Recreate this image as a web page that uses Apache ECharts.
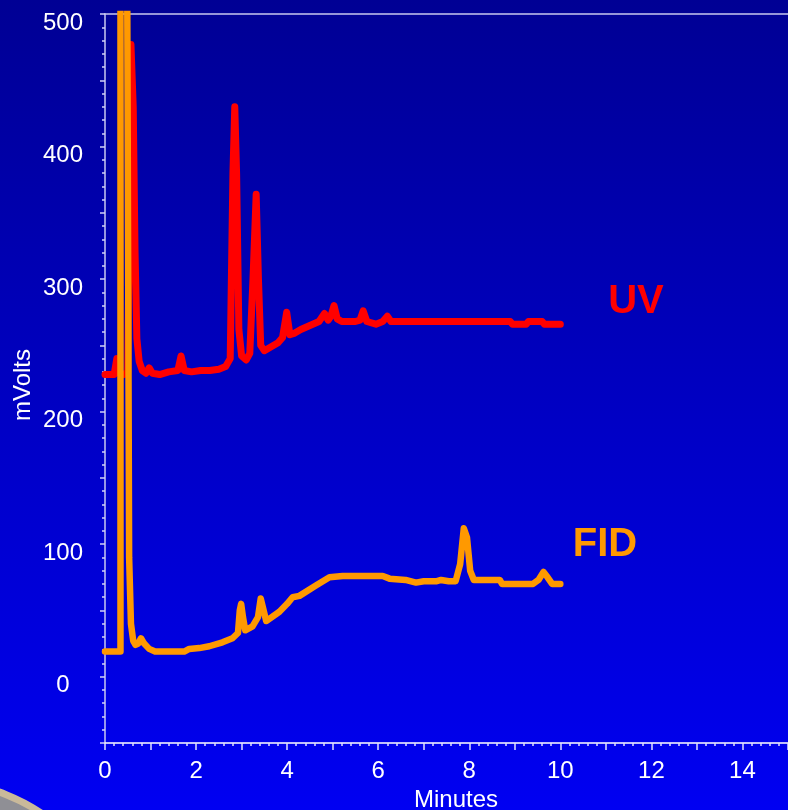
<!DOCTYPE html>
<html>
<head>
<meta charset="utf-8">
<script src="https://cdn.jsdelivr.net/npm/echarts@6/dist/echarts.min.js"></script>
<style>html,body{margin:0;padding:0;background:#0000c0;}#chart{width:788px;height:810px;}</style>
</head>
<body>
<div id="chart"></div>
<script>
// Retention time (minutes) and detector response (mVolts)
const uvTime = [0,0.2,0.26,0.32,0.42,0.5,0.57,0.62,0.66,0.70,0.75,0.82,0.90,0.97,1.04,1.2,1.4,1.6,1.67,1.74,1.9,2.1,2.3,2.5,2.65,2.75,2.81,2.85,2.89,2.94,3.0,3.1,3.18,3.25,3.32,3.37,3.42,3.5,3.65,3.8,3.9,3.99,4.06,4.15,4.3,4.5,4.7,4.82,4.9,4.96,5.03,5.1,5.2,5.5,5.6,5.67,5.75,5.95,6.1,6.2,6.28,7.0,8.0,8.9,8.95,9.25,9.3,9.6,9.65,10.0];
const uvValue = [228,228,240,229,228,230,477,430,320,255,238,231,229,233,229,228,230,231,242,231,230,231,231,232,234,240,380,430,380,262,242,239,244,300,364,300,250,246,249,252,256,275,258,259,262,265,268,274,269,272,280,270,268,268,269,276,268,266,268,272,268,268,268,268,266,266,268,268,266,266];
const fidTime = [0,0.34,0.34,0.49,0.49,0.53,0.57,0.62,0.67,0.73,0.79,0.86,0.97,1.1,1.3,1.5,1.74,1.85,2.07,2.29,2.58,2.8,2.92,2.96,2.99,3.03,3.08,3.24,3.36,3.42,3.47,3.54,3.83,4.0,4.12,4.27,4.64,4.93,5.22,5.6,6.1,6.25,6.6,6.83,7.0,7.27,7.38,7.55,7.7,7.8,7.88,7.95,8.02,8.1,8.67,8.72,9.4,9.52,9.63,9.72,9.82,10.0];
const fidValue = [19,19,1500,1500,500,90,40,27,24,25,29,25,21,19,19,19,19,21,21.6,23,26,29,33,50,55,45,35,38,45,59,52,42,49,55,60,61,69,75,76,76,76,74,73,71,72,72,73,72,72,85,112,105,80,73,73,70,70,73,79,75,70,70];
const xTickLabels = ['0','2','4','6','8','10','12','14'];
const yTickLabels = ['0','100','200','300','400','500'];
const traceNames = ['UV','FID'];

const uvData = uvTime.map((t,i)=>[t,uvValue[i]]);
const fidData = fidTime.map((t,i)=>[t,fidValue[i]]);

const chart = echarts.init(document.getElementById('chart'), null, {renderer:'canvas'});
const font = 'Liberation Sans, Arial, Helvetica, sans-serif';
chart.setOption({
  animation:false,
  backgroundColor:{type:'linear',x:0,y:0,x2:0,y2:1,colorStops:[{offset:0,color:'#000094'},{offset:1,color:'#0000f2'}]},
  grid:{left:105,right:0,top:14,bottom:67,show:false,outerBoundsMode:'none'},
  xAxis:[{
    type:'value',min:0,max:15,interval:1,
    name:'Minutes',nameLocation:'middle',nameGap:38,
    nameTextStyle:{color:'#ffffff',fontSize:24,fontFamily:font,padding:[0,0,0,19]},
    axisLine:{show:true,onZero:false,lineStyle:{color:'#ffffff',width:1.5}},
    axisTick:{show:true,length:7,lineStyle:{color:'#e0e0ff',width:1.5}},
    minorTick:{show:true,splitNumber:5,length:3,lineStyle:{color:'#e0e0ff',width:1.5}},
    splitLine:{show:false},
    axisLabel:{color:'#ffffff',fontSize:24,fontFamily:font,margin:16,showMaxLabel:false,hideOverlap:false,
      formatter:v=>{const s=String(v);return xTickLabels.indexOf(s)>=0?s:'';}}
  },{
    type:'value',min:0,max:15,position:'top',
    axisLine:{show:true,onZero:false,lineStyle:{color:'#c8c8f0',width:1.5}},
    axisTick:{show:false},axisLabel:{show:false},splitLine:{show:false}
  }],
  yAxis:{
    type:'value',min:-50,max:500,interval:50,
    axisLine:{show:true,onZero:false,lineStyle:{color:'#c8c8f0',width:1.5}},
    axisTick:{show:true,length:5,lineStyle:{color:'#d0d0f8',width:1.5}},
    minorTick:{show:true,splitNumber:5,length:3,lineStyle:{color:'#d0d0f8',width:1.5}},
    splitLine:{show:false},
    axisLabel:{color:'#ffffff',fontSize:24,fontFamily:font,margin:42,align:'center',verticalAlign:'top',lineHeight:18,hideOverlap:false,
      formatter:v=>{const s=String(v);return yTickLabels.indexOf(s)>=0?s:'';}}
  },
  graphic:[
    {type:'circle',shape:{cx:-60,cy:962,r:180},style:{fill:'#8f8f95',stroke:'#c9b99a',lineWidth:7},z:100},
    {type:'text',x:23,y:385,rotation:Math.PI/2,style:{text:'mVolts',fill:'#ffffff',font:'24px '+font,align:'center',verticalAlign:'middle'},z:100},
    {type:'text',x:636,y:302,style:{text:traceNames[0],fill:'#ff0000',font:'bold 40px '+font,align:'center',verticalAlign:'middle'},z:100},
    {type:'text',x:605,y:545,style:{text:traceNames[1],fill:'#ff9900',font:'bold 40px '+font,align:'center',verticalAlign:'middle'},z:100}
  ],
  series:[
    {name:traceNames[0],type:'line',data:uvData,showSymbol:false,symbol:'none',clip:true,
      lineStyle:{color:'#ff0000',width:7,cap:'round',join:'round'},z:2},
    {name:traceNames[1],type:'line',data:fidData,showSymbol:false,symbol:'none',clip:true,
      lineStyle:{color:'#ff9900',width:6.5,cap:'round',join:'round'},z:3}
  ]
});
</script>
</body>
</html>
